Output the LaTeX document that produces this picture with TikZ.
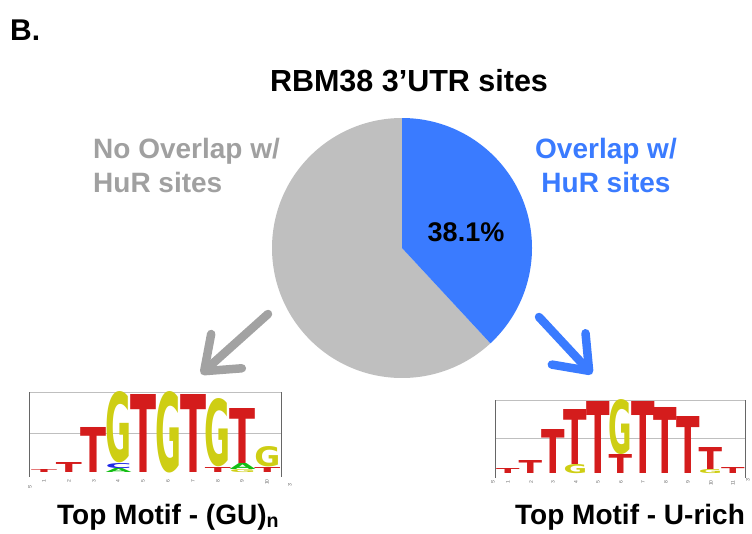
\documentclass[tikz,border=0pt]{standalone}
\usepackage{fontspec}
\setmainfont{Liberation Sans}
\newfontfamily\logofont{DejaVu Sans}
\usepackage{graphicx}
\usetikzlibrary{arrows.meta}

\definecolor{piegray}{RGB}{191,191,191}
\definecolor{txtgray}{RGB}{160,160,160}
\definecolor{hurblue}{RGB}{58,123,255}
\definecolor{logored}{RGB}{212,28,28}
\definecolor{logoyel}{RGB}{206,206,20}
\definecolor{logogrn}{RGB}{20,190,20}
\definecolor{logoblu}{RGB}{30,40,230}

\tikzstyle{lbl} = [inner sep=0pt, font=\fontsize{28}{34}\selectfont\bfseries]
\tikzstyle{seqnum} = [inner sep=0pt, rotate=90, text=black!60, font=\fontsize{5}{5}\selectfont]
\tikzstyle{gridline} = [draw=black!25, line width=0.8pt]
\tikzstyle{logoaxis} = [draw=black!60, line width=1pt]
\tikzstyle{bigarrow} = [line width=8.5pt, line cap=round, -{Straight Barb[length=30pt, width=46pt, round]}]

% one stretched letter of a sequence logo: name, left x, bottom y, width, height, colour, letter
\newcommand{\mlet}[7]{\node [anchor=south west, inner sep=0pt, text=#6] (#1) at ({#2-1},-#3) {\resizebox{#4pt}{#5pt}{\logofont\bfseries #7}};}

\begin{document}
\begin{tikzpicture}[x=1pt, y=1pt]
\useasboundingbox (0,0) rectangle (752,-533);

\node [lbl, anchor=base west, font=\fontsize{30}{34}\selectfont\bfseries] (panel) at (10,-40) {B.};
\node [lbl, anchor=base, font=\fontsize{30.5}{34}\selectfont\bfseries] (title) at (409,-91) {RBM38 3'UTR sites};

% pie
\coordinate (pie) at (402,-248);
\fill [piegray] (pie) -- ++(-47.16:130) arc [start angle=-47.16, end angle=-270, radius=130] -- cycle;
\fill [hurblue] (pie) -- ++(90:130) arc [start angle=90, end angle=-47.16, radius=130] -- cycle;

\node [lbl, anchor=base, font=\fontsize{27}{34}\selectfont\bfseries] (pct) at (466,-241) {38.1\%};
\node [lbl, anchor=base west, align=left, text=txtgray] (nolap) at (93,-192) {No Overlap w/\\HuR sites};
\node [lbl, anchor=base, align=center, text=hurblue] (olap) at (606,-192) {Overlap w/\\HuR sites};

% arrows
\coordinate (gs) at (268,-314);
\coordinate (ge) at (201,-374);
\coordinate (bs) at (539,-317);
\coordinate (be) at (592,-374);
\draw [bigarrow, piegray!85!black] (gs) -- (ge);
\draw [bigarrow, hurblue] (bs) -- (be);

% left logo
\draw [gridline] (29,-392) -- (281,-392);
\draw [gridline] (29,-433) -- (281,-433);
\draw [logoaxis] (29,-392) -- (29,-477);
\draw [logoaxis] (281,-392) -- (281,-477);

\mlet{la1}{32}{473}{26}{3}{logored}{T}
\mlet{la2}{56.8}{473}{26}{10}{logored}{T}
\mlet{la3}{81.6}{473}{26}{45}{logored}{T}
\mlet{la4a}{106.4}{473}{26}{4}{logogrn}{A}
\mlet{la4c}{106.4}{469}{26}{5}{logoblu}{C}
\mlet{la4g}{106.4}{463}{26}{70}{logoyel}{G}
\mlet{la5}{131.2}{473}{26}{78}{logored}{T}
\mlet{la6}{156}{473}{26}{80}{logoyel}{G}
\mlet{la7}{180.8}{473}{26}{78}{logored}{T}
\mlet{la8t}{205.6}{473}{26}{5}{logored}{T}
\mlet{la8g}{205.6}{467}{26}{67}{logoyel}{G}
\mlet{la9g}{230.4}{473}{26}{3}{logoyel}{G}
\mlet{la9a}{230.4}{470}{26}{6}{logogrn}{A}
\mlet{la9t}{230.4}{464}{26}{55}{logored}{T}
\mlet{la10t}{255.2}{473}{26}{5}{logored}{T}
\mlet{la10g}{255.2}{467}{26}{20}{logoyel}{G}

\node [seqnum] (lp1) at (44,-481) {1};
\node [seqnum] (lp2) at (69,-481) {2};
\node [seqnum] (lp3) at (94,-481) {3};
\node [seqnum] (lp4) at (118,-481) {4};
\node [seqnum] (lp5) at (143,-481) {5};
\node [seqnum] (lp6) at (168,-481) {6};
\node [seqnum] (lp7) at (193,-481) {7};
\node [seqnum] (lp8) at (218,-481) {8};
\node [seqnum] (lp9) at (242,-481) {9};
\node [seqnum] (lp10) at (267,-482) {10};
\node [seqnum] (l5p) at (30,-487) {5'};
\node [seqnum] (l3p) at (290,-485) {3'};

\node [lbl, anchor=base west] (lcap) at (57,-524) {Top Motif - (GU)\textsubscript{n}};

% right logo
\draw [gridline] (495,-400) -- (745,-400);
\draw [gridline] (495,-438) -- (745,-438);
\draw [logoaxis] (495,-400) -- (495,-478);
\draw [logoaxis] (745,-400) -- (745,-478);

\mlet{ra1}{497}{474}{23.5}{5}{logored}{T}
\mlet{ra2}{519.5}{474}{23.5}{13}{logored}{T}
\mlet{ra3}{542}{474}{23.5}{44}{logored}{T}
\mlet{ra4g}{564.5}{474}{23.5}{9}{logoyel}{G}
\mlet{ra4t}{564.5}{465}{23.5}{55}{logored}{T}
\mlet{ra5}{587}{474}{23.5}{72}{logored}{T}
\mlet{ra6t}{609.5}{474}{23.5}{19}{logored}{T}
\mlet{ra6g}{609.5}{455}{23.5}{54}{logoyel}{G}
\mlet{ra7}{632}{474}{23.5}{72}{logored}{T}
\mlet{ra8}{654.5}{474}{23.5}{66}{logored}{T}
\mlet{ra9}{677}{474}{23.5}{57}{logored}{T}
\mlet{ra10g}{699.5}{474}{23.5}{4}{logoyel}{G}
\mlet{ra10t}{699.5}{470}{23.5}{22}{logored}{T}
\mlet{ra11}{722}{474}{23.5}{6}{logored}{T}

\node [seqnum] (rp1) at (508,-482) {1};
\node [seqnum] (rp2) at (531,-482) {2};
\node [seqnum] (rp3) at (553,-482) {3};
\node [seqnum] (rp4) at (576,-482) {4};
\node [seqnum] (rp5) at (598,-482) {5};
\node [seqnum] (rp6) at (621,-482) {6};
\node [seqnum] (rp7) at (643,-482) {7};
\node [seqnum] (rp8) at (666,-482) {8};
\node [seqnum] (rp9) at (688,-482) {9};
\node [seqnum] (rp10) at (711,-483) {10};
\node [seqnum] (rp11) at (733,-483) {11};
\node [seqnum] (r5p) at (493,-482) {5'};
\node [seqnum] (r3p) at (748,-480) {3'};

\node [lbl, anchor=base west] (rcap) at (515,-524) {Top Motif - U-rich};
\end{tikzpicture}
\end{document}
